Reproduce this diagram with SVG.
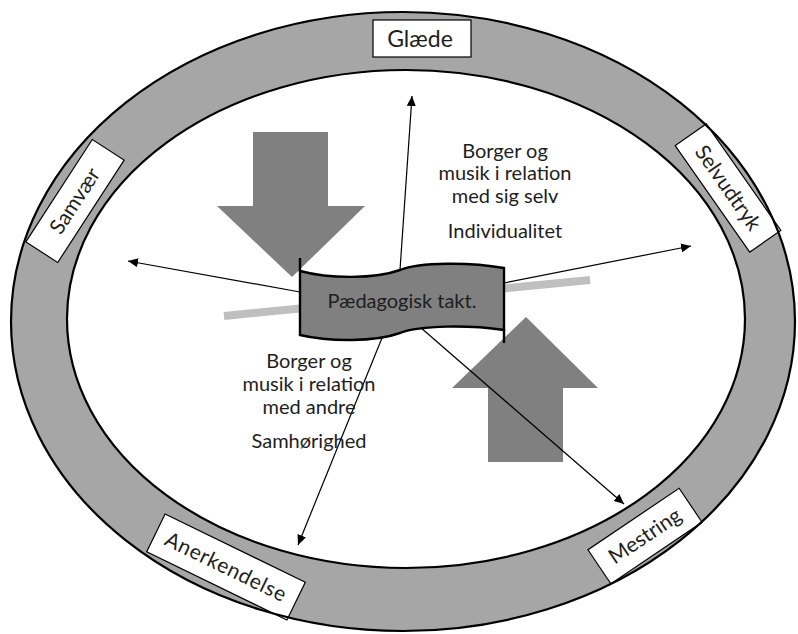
<svg xmlns="http://www.w3.org/2000/svg" width="798" height="634" viewBox="0 0 798 634">
<defs>
<style>
.lbl{fill:#fff;stroke:#000;stroke-width:1.2}
.t{font-family:Lato,"Open Sans","Liberation Sans",sans-serif;fill:#1e1e1e;text-anchor:middle}
.big{fill:#808080}
.con{stroke:#000;stroke-width:1.2;fill:none;marker-end:url(#ah)}
</style>
<marker id="ah" markerWidth="10" markerHeight="9" refX="10" refY="4.5" orient="auto" markerUnits="userSpaceOnUse"><path d="M0,0 L10,4.5 L0,9 z" fill="#000"/></marker>
</defs>
<rect width="798" height="634" fill="#fff"/>
<g id="ring">
<path d="M11,321.5 A392,309.5 0 1 0 795,321.5 A392,309.5 0 1 0 11,321.5 Z M67,319 A339,249 0 1 1 745,319 A339,249 0 1 1 67,319 Z" fill="#a6a6a6" fill-rule="evenodd"/>
<ellipse cx="406" cy="319" rx="339" ry="249" fill="none" stroke="#000" stroke-width="2.2"/>
</g>
<g id="glaede">
<rect class="lbl" x="373" y="20" width="98" height="37"/>
<text class="t" x="420" y="47" font-size="23">Glæde</text>
</g>
<g id="selvudtryk" transform="translate(728,188) rotate(55)">
<rect class="lbl" x="-65" y="-19" width="130" height="38"/>
<text class="t" x="0" y="7" font-size="21">Selvudtryk</text>
</g>
<g id="samvaer" transform="translate(75,201) rotate(-57)">
<rect class="lbl" x="-61" y="-19" width="122" height="38"/>
<text class="t" x="0" y="7" font-size="21">Samvær</text>
</g>
<g id="anerkendelse" transform="translate(226,567) rotate(26)">
<rect class="lbl" x="-78" y="-21" width="156" height="42"/>
<text class="t" x="0" y="7" font-size="21" letter-spacing="0.6">Anerkendelse</text>
</g>
<g id="mestring" transform="translate(645,536) rotate(-34)">
<rect class="lbl" x="-55" y="-20.5" width="110" height="41"/>
<text class="t" x="0" y="7" font-size="21">Mestring</text>
</g>
<ellipse id="ring-outline" cx="403" cy="321.5" rx="392" ry="309.5" fill="none" stroke="#000" stroke-width="2.2"/>
<g id="axis-bar">
<line x1="224" y1="316" x2="590" y2="280" stroke="#bfbfbf" stroke-width="8"/>
</g>
<g id="arrow-down">
<polygon class="big" points="253,132 328,132 328,206 365,206 292,277 217,206 253,206"/>
</g>
<g id="arrow-up">
<polygon class="big" points="526,317 598,388 563,388 563,462 488,462 488,388 452,388"/>
</g>
<g id="connectors">
<line class="con" x1="400" y1="270" x2="412" y2="96"/>
<line class="con" x1="300" y1="292" x2="128" y2="261"/>
<line class="con" x1="504" y1="283" x2="691" y2="246"/>
<line class="con" x1="384" y1="333" x2="298" y2="545"/>
<line class="con" x1="420" y1="327" x2="624" y2="504"/>
</g>
<g id="banner">
<path d="M300,271 C330,279 375,279 400,270 C420,262 470,262 504,268 L504,330 C470,325 420,325 400,333 C375,342 330,342 300,335 Z" fill="#808080" stroke="#000" stroke-width="2.4"/>
<path d="M300,258 L300,272 M504,329 L504,343" stroke="#000" stroke-width="2.4"/>
<text class="t" x="402" y="308" font-size="20">Pædagogisk takt.</text>
</g>
<g id="text-individual">
<text class="t" x="505" y="158" font-size="20">Borger og</text>
<text class="t" x="505" y="180" font-size="20">musik i relation</text>
<text class="t" x="505" y="203" font-size="20">med sig selv</text>
<text class="t" x="505" y="238" font-size="20">Individualitet</text>
</g>
<g id="text-samhoer">
<text class="t" x="309" y="368" font-size="20">Borger og</text>
<text class="t" x="309" y="391" font-size="20">musik i relation</text>
<text class="t" x="309" y="414" font-size="20">med andre</text>
<text class="t" x="309" y="448" font-size="20">Samhørighed</text>
</g>
</svg>
